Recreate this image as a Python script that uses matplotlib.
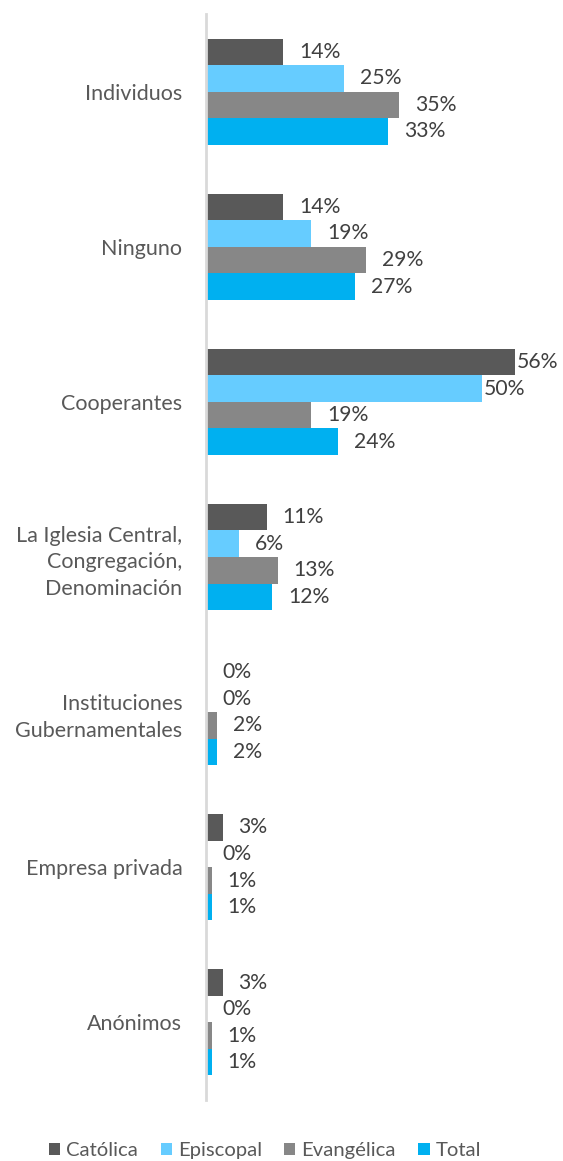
import matplotlib.pyplot as plt
import numpy as np

plt.rcParams['font.family'] = ['Lato', 'DejaVu Sans']

categories = ['Individuos', 'Ninguno', 'Cooperantes',
              'La Iglesia Central,\nCongregación,\nDenominación',
              'Instituciones\nGubernamentales', 'Empresa privada', 'Anónimos']
series = ['Católica', 'Episcopal', 'Evangélica', 'Total']
catolica = [14, 14, 56, 11, 0, 3, 3]
episcopal = [25, 19, 50, 6, 0, 0, 0]
evangelica = [35, 29, 19, 13, 2, 1, 1]
total = [33, 27, 24, 12, 2, 1, 1]
colors = ['#595959', '#66CCFF', '#878787', '#00B0F0']

fig = plt.figure(figsize=(5.63, 11.61), dpi=100)
ax = fig.add_axes([206 / 563, 61 / 1161, 309 / 563, 1086 / 1161])

y = np.arange(len(categories))
h = 0.171
for i, (vals, name, c) in enumerate(zip([catolica, episcopal, evangelica, total], series, colors)):
    pos = y + (i - 1.5) * h
    ax.barh(pos, vals, height=h, color=c, label=name)
    for p, v in zip(pos, vals):
        off = 2 if v > 45 else 16
        ax.annotate(f'{v}%', (v, p), xytext=(off, 0), textcoords='offset pixels',
                    va='center', ha='left', fontsize=15.2, color='#404040')

ax.set_xlim(0, 56)
ax.set_ylim(len(categories) - 0.5, -0.5)
ax.set_yticks(y)
ax.set_yticklabels(categories, fontsize=15.5, color='#595959', linespacing=1.4)
ax.tick_params(axis='y', length=0, pad=17)
ax.set_xticks([])
for s in ['top', 'right', 'bottom']:
    ax.spines[s].set_visible(False)
ax.spines['left'].set_color('#D9D9D9')
ax.spines['left'].set_linewidth(2)

leg = fig.legend(loc='lower center', bbox_to_anchor=(0.471, -0.014), ncol=4, frameon=False,
                 fontsize=14.6, handlelength=0.55, handleheight=0.55, handletextpad=0.3,
                 columnspacing=1.1)
for t in leg.get_texts():
    t.set_color('#595959')

fig.savefig('out.png', dpi=100)
